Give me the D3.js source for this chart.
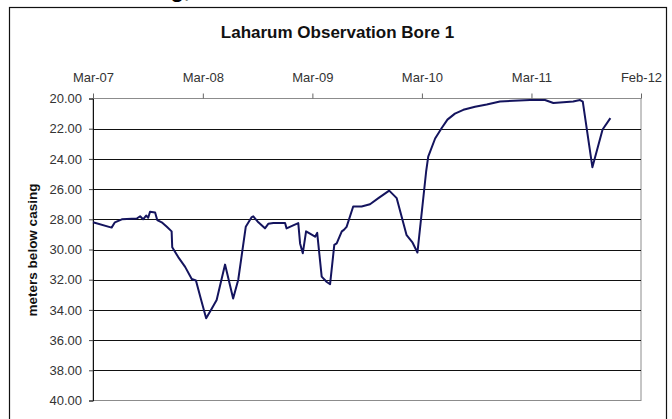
<!DOCTYPE html>
<html>
<head>
<meta charset="utf-8">
<script src="https://cdn.jsdelivr.net/npm/d3@7"></script>
<style>
  html, body { margin: 0; padding: 0; background: #fff; }
  svg { display: block; }
  text { font-family: "Liberation Sans", Arial, sans-serif; }
</style>
</head>
<body>
<svg id="chart" width="672" height="419"></svg>
<script>
// ---- data ----
const title = "Laharum Observation Bore 1";
const yTitle = "meters below casing";
const dates = [
  "2007-03-01","2007-05-02","2007-05-13","2007-06-05","2007-07-25","2007-08-05","2007-08-15","2007-08-25",
  "2007-09-01","2007-09-07","2007-09-24","2007-10-01","2007-10-16","2007-11-02","2007-11-18","2007-11-20",
  "2007-12-10","2008-01-02","2008-01-24","2008-02-07","2008-02-21","2008-03-12","2008-03-31","2008-04-16",
  "2008-05-14","2008-06-10","2008-06-27","2008-07-22","2008-08-11","2008-08-16","2008-09-02","2008-09-24",
  "2008-10-05","2008-10-22","2008-11-30","2008-12-05","2008-12-27","2009-01-13","2009-01-19","2009-01-28",
  "2009-02-08","2009-02-21","2009-03-10","2009-03-17","2009-04-01","2009-04-18","2009-04-29","2009-05-13",
  "2009-05-21","2009-06-07","2009-06-14","2009-06-23","2009-07-15","2009-08-12","2009-09-09","2009-10-07",
  "2009-11-12","2009-12-07","2010-01-09","2010-01-29","2010-02-14","2010-03-15","2010-03-22","2010-04-14",
  "2010-05-06","2010-05-25","2010-06-19","2010-07-17","2010-08-25","2010-10-03","2010-11-16","2010-12-31",
  "2011-02-24","2011-04-15","2011-05-13","2011-06-15","2011-07-18","2011-08-10","2011-08-19","2011-09-20",
  "2011-10-24","2011-11-19"
];
const depths = [
  28.2, 28.55, 28.2, 28.0, 27.95, 27.8, 28.0, 27.75,
  27.9, 27.5, 27.55, 28.05, 28.2, 28.5, 28.8, 29.85,
  30.5, 31.15, 31.95, 32.05, 33.1, 34.55, 33.9, 33.35,
  31.0, 33.25, 32.0, 28.5, 27.85, 27.8, 28.2, 28.6,
  28.3, 28.25, 28.25, 28.6, 28.4, 28.25, 29.6, 30.25,
  28.8, 28.95, 29.15, 28.9, 31.8, 32.15, 32.3, 29.7,
  29.6, 28.8, 28.7, 28.5, 27.15, 27.15, 27.0, 26.6,
  26.1, 26.6, 29.05, 29.55, 30.2, 24.85, 23.85, 22.65,
  21.95, 21.4, 21.0, 20.75, 20.55, 20.4, 20.2, 20.15,
  20.1, 20.1, 20.3, 20.25, 20.2, 20.1, 20.2, 24.55,
  22.05, 21.3
];
const xTickDates = ["2007-03-01","2008-03-01","2009-03-01","2010-03-01","2011-03-01","2012-02-29"];
const xDomain = ["2007-03-01","2012-02-29"];
const yTicks = [20, 22, 24, 26, 28, 30, 32, 34, 36, 38, 40];
const yDomain = [20, 40];

// ---- drawing ----
const parse = d3.timeParse("%Y-%m-%d");
const svg = d3.select("#chart");
const L = 93, R = 641, T = 98.5, B = 400.5;

// page fragment of heading above chart (clipped)
svg.append("text").attr("x", 190).attr("y", -3).attr("text-anchor", "end")
  .attr("font-size", 22).attr("font-weight", "bold").attr("fill", "#000").text("ng,");

// outer chart frame
svg.append("rect").attr("x", 9.5).attr("y", 7.5).attr("width", 657).attr("height", 430)
  .attr("fill", "#fff").attr("stroke", "#111").attr("stroke-width", 1.2);

const x = d3.scaleTime().domain(xDomain.map(parse)).range([L, R]);
const y = d3.scaleLinear().domain(yDomain).range([T, B]);

// title
svg.append("text").attr("x", 337.5).attr("y", 38).attr("text-anchor", "middle")
  .attr("font-size", 17).attr("font-weight", "bold").attr("fill", "#111").text(title);

// plot area border (gray)
svg.append("rect").attr("x", L).attr("y", y(20)).attr("width", R - L).attr("height", y(40) - y(20))
  .attr("fill", "#fff").attr("stroke", "#8c8c8c").attr("stroke-width", 1);

// gridlines
svg.append("g").selectAll("line").data(yTicks.filter(v => v > 20 && v < 40)).join("line")
  .attr("x1", L).attr("x2", R)
  .attr("y1", d => Math.round(y(d)) + 0.5).attr("y2", d => Math.round(y(d)) + 0.5)
  .attr("stroke", "#111").attr("stroke-width", 1);

// y axis
const yAxis = svg.append("g").attr("transform", `translate(${L},0)`)
  .call(d3.axisLeft(y).tickValues(yTicks).tickFormat(d3.format(".2f")).tickSize(4).tickPadding(7));
yAxis.select(".domain").attr("stroke", "#111");
yAxis.selectAll(".tick line").attr("stroke", "#444");
yAxis.selectAll("text").attr("font-size", 13).attr("fill", "#333")
  .attr("font-family", "'Liberation Sans', Arial, sans-serif");

// x axis at top
const xAxis = svg.append("g").attr("transform", `translate(0,${T})`)
  .call(d3.axisTop(x).tickValues(xTickDates.map(parse)).tickFormat(d3.timeFormat("%b-%y"))
    .tickSize(5).tickSizeOuter(0).tickPadding(11.5));
xAxis.select(".domain").remove();
xAxis.selectAll(".tick line").attr("stroke", "#666");
xAxis.selectAll("text").attr("font-size", 13).attr("fill", "#333")
  .attr("font-family", "'Liberation Sans', Arial, sans-serif");

// y axis title
svg.append("text").attr("transform", "translate(37,250) rotate(-90)")
  .attr("text-anchor", "middle").attr("font-size", 13.5).attr("font-weight", "bold")
  .attr("fill", "#111").text(yTitle);

// series line
const pts = dates.map((d, i) => [parse(d), depths[i]]);
svg.append("path").datum(pts)
  .attr("fill", "none").attr("stroke", "#14145e").attr("stroke-width", 2)
  .attr("stroke-linejoin", "round")
  .attr("d", d3.line().x(d => x(d[0])).y(d => y(d[1])));
</script>
</body>
</html>
